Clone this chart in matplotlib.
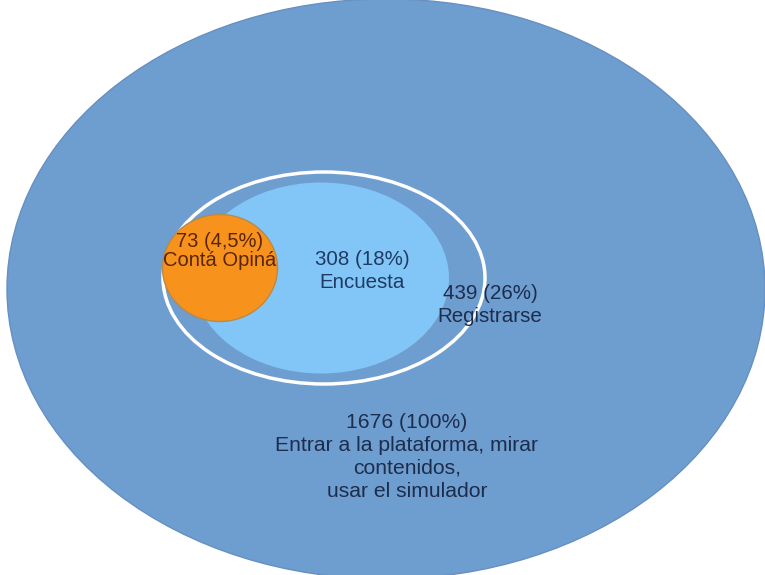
import matplotlib
matplotlib.use("Agg")
import matplotlib.pyplot as plt
from matplotlib.patches import Ellipse

plt.rcParams['font.family'] = ['Liberation Sans', 'DejaVu Sans']

# counts per stage of the funnel (outer -> inner)
etapas = ['Entrar a la plataforma, mirar\ncontenidos,\nusar el simulador',
          'Registrarse', 'Encuesta', 'Contá Opiná']
usuarios = [1676, 439, 308, 73]
porcentajes = ['100%', '26%', '18%', '4,5%']

# ellipse layout in pixels: center x, center y, width, height
cx = [386, 324, 321, 220]
cy = [289, 278, 278, 268]
ancho = [758, 322, 256, 115]
alto = [580, 212, 191, 107]

# label anchor for each stage
tx = [407, 490, 362, 220]
ty = [457, 305, 271, 251]

fig = plt.figure(figsize=(7.65, 5.75), dpi=100)
ax = fig.add_axes([0, 0, 1, 1])
ax.set_xlim(0, 765)
ax.set_ylim(575, 0)
ax.axis('off')

# big blue one = everybody
ax.add_patch(Ellipse((cx[0], cy[0]), ancho[0], alto[0],
                     facecolor='#6e9dd0', edgecolor='#6690c2', lw=1))
# registrarse: only the white outline shows
ax.add_patch(Ellipse((cx[1], cy[1]), ancho[1], alto[1],
                     facecolor='#6e9dd0', edgecolor='white', lw=2.5))
# encuesta
ax.add_patch(Ellipse((cx[2], cy[2]), ancho[2], alto[2],
                     facecolor='#82c6f8', edgecolor='none'))
# conta opina
ax.add_patch(Ellipse((cx[3], cy[3]), ancho[3], alto[3],
                     facecolor='#f7931c', edgecolor='#b88a4a', lw=1))

colores = ['#1d2d4c', '#1d2d4c', '#1f3b63', '#5a2508']
tam = [15.2, 14.8, 14.8, 14.5]
esp = [1.25, 1.3, 1.3, 1.05]

for i in range(len(etapas)):
    txt = '%d (%s)\n%s' % (usuarios[i], porcentajes[i], etapas[i])
    ax.text(tx[i], ty[i], txt, ha='center', va='center',
            fontsize=tam[i], color=colores[i], linespacing=esp[i],
            multialignment='center')

fig.savefig('out.png', dpi=100)
